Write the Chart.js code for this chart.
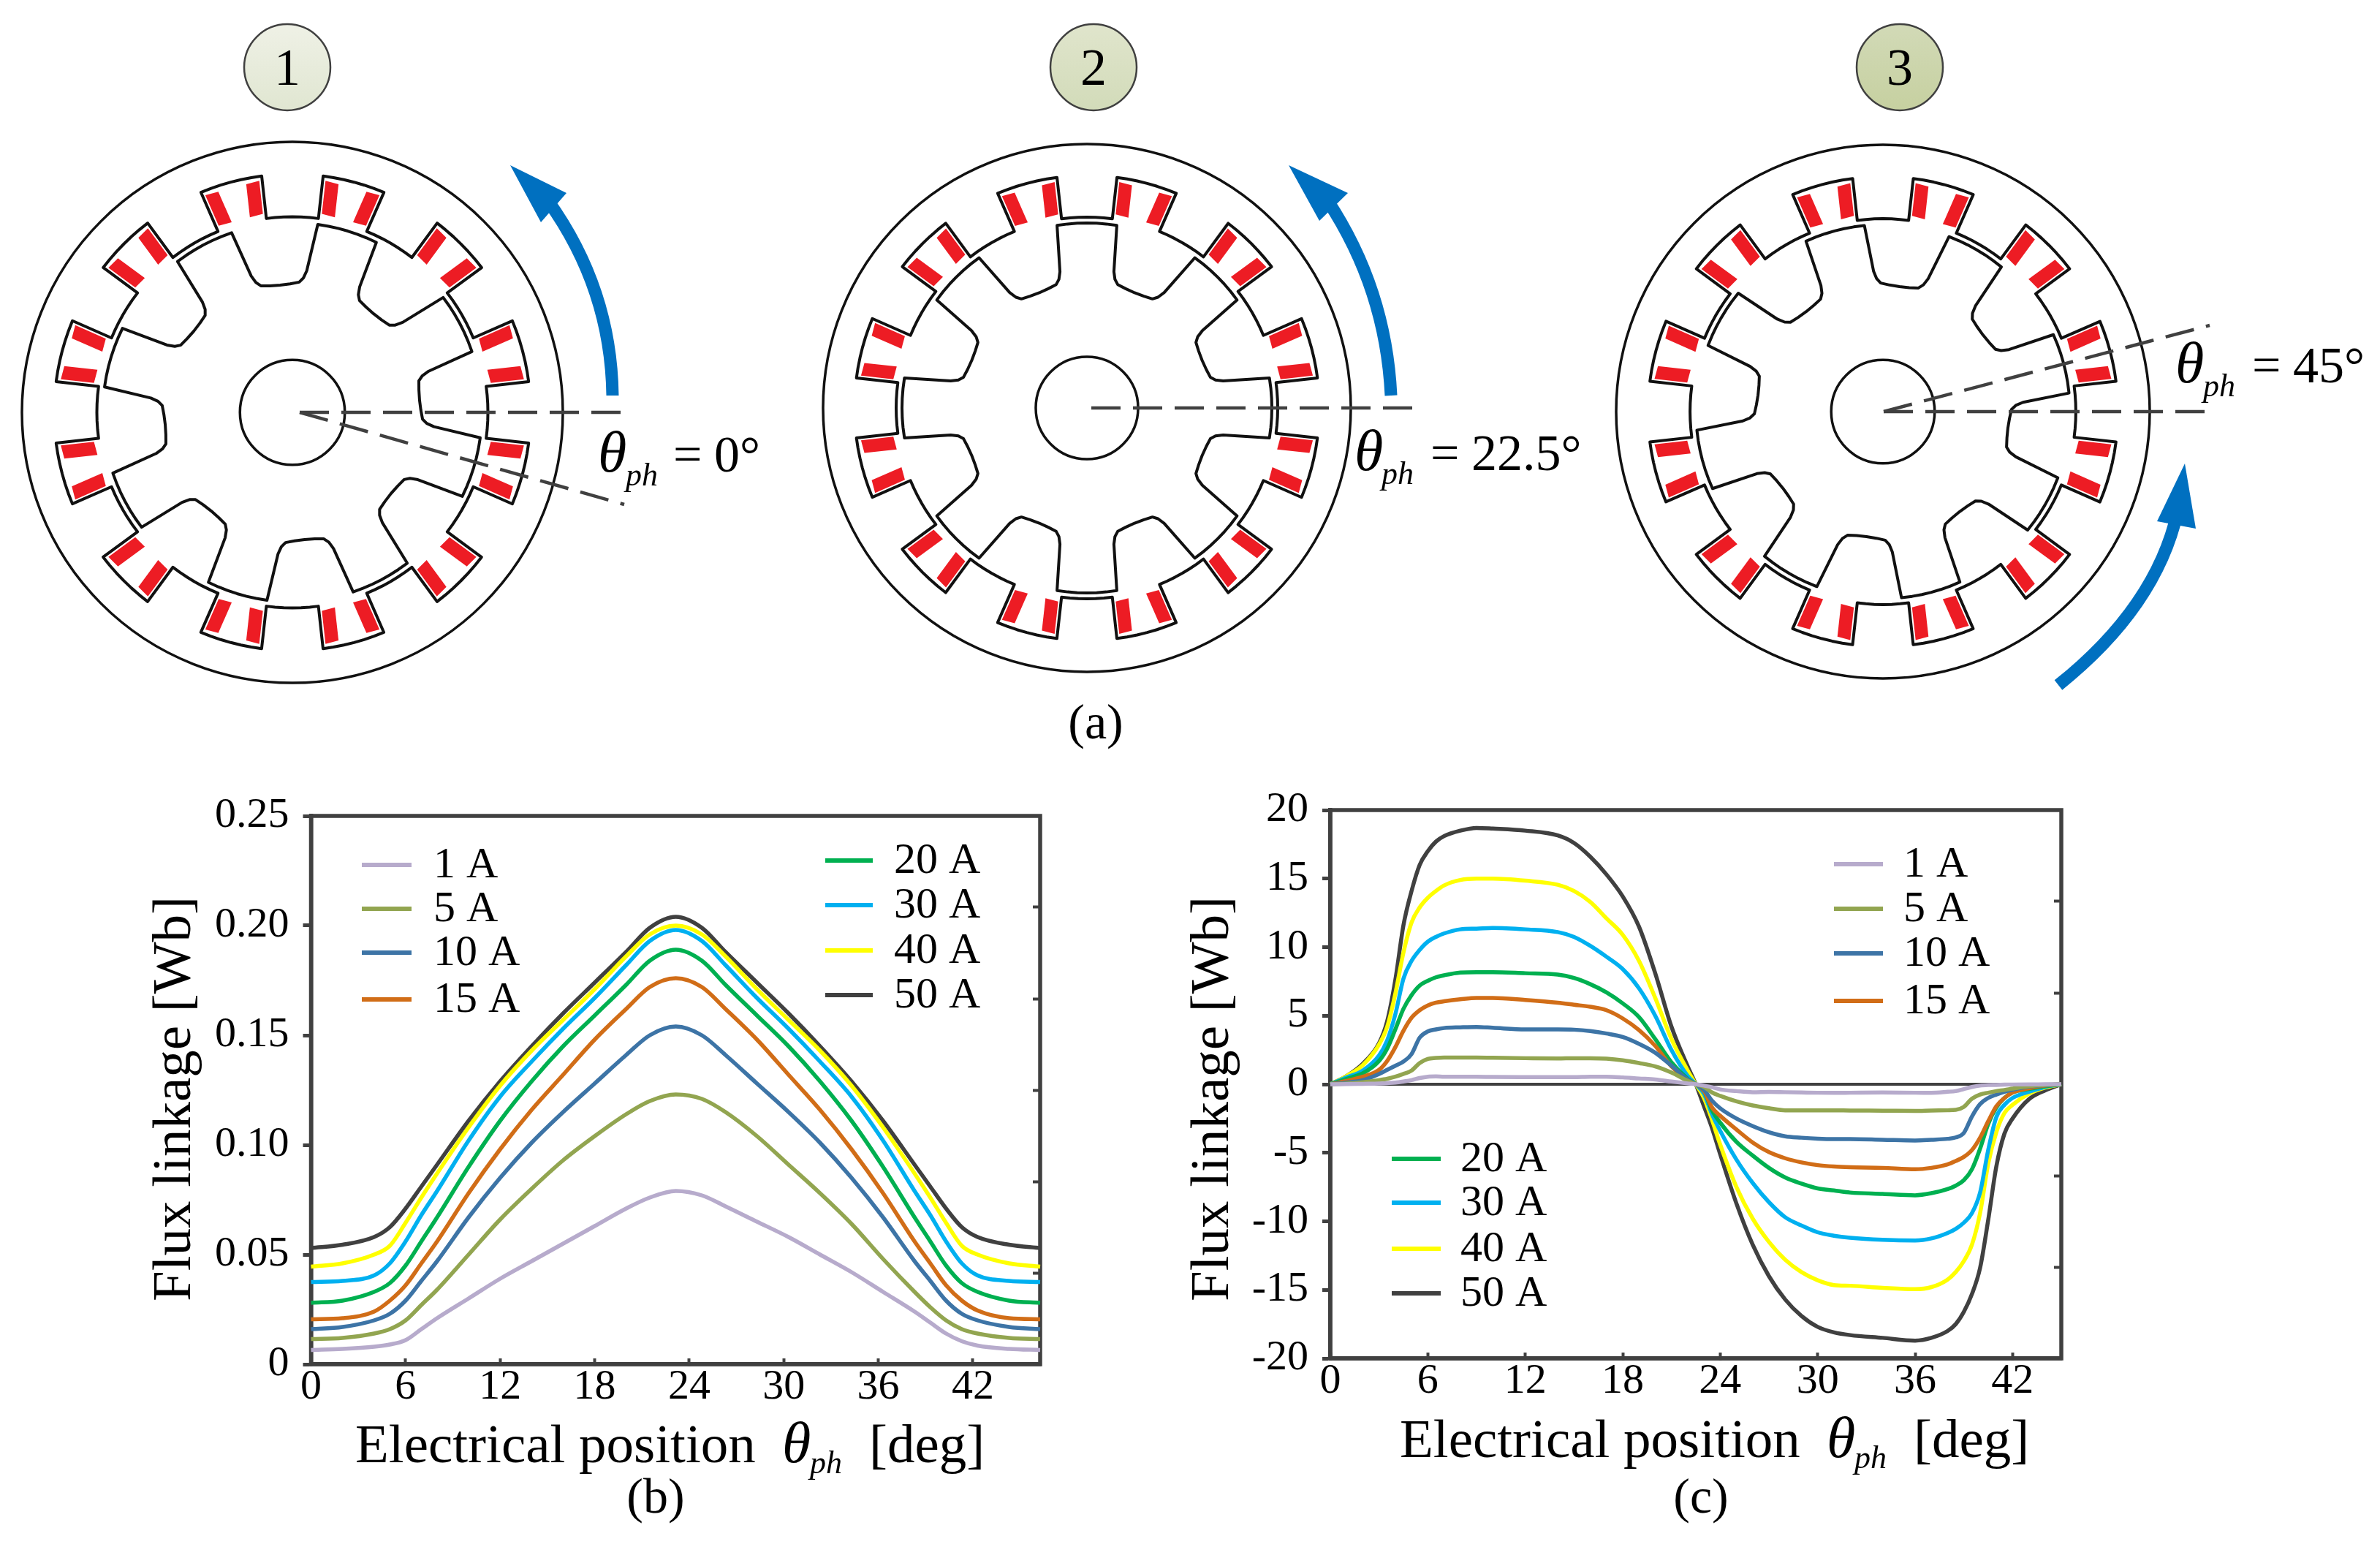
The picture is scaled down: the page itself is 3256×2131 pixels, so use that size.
<!DOCTYPE html>
<html><head><meta charset="utf-8">
<script src="https://cdn.jsdelivr.net/npm/chart.js@4"></script>
<style>
html,body{margin:0;padding:0;background:#fff;width:3256px;height:2131px;overflow:hidden}
canvas{position:absolute;display:block}
</style></head><body>
<canvas id="top" width="3256" height="1050" style="left:0;top:0"></canvas>
<canvas id="chB" style="left:0;top:1050px"></canvas>
<canvas id="chC" style="left:1560px;top:1050px"></canvas>
<script>
// ---------- data ----------
const seriesNames = ['1 A','5 A','10 A','15 A','20 A','30 A','40 A','50 A'];
const seriesColors = ['#B7ABCC','#92A550','#3D74A6','#D16D17','#00B050','#00B0F0','#FFFF00','#404040'];

const xTicksB = [0,6,12,18,24,30,36,42];
const yTicksB = [0,0.05,0.10,0.15,0.20,0.25];
const xB = [0,2,4,5,6,7,8,10,12,14,16,18,20,21.5,23.15,24.8,26.3,28.3,30.3,32.3,34.3,36.3,38.3,39.3,40.3,41.3,42.3,44.3,46.27];
const b1  = [.0065,.007,.008,.009,.011,.016,.021,.030,.039,.047,.055,.063,.071,.076,.079,.077,.072,.065,.058,.050,.042,.033,.024,.019,.014,.0105,.0085,.007,.0065];
const b5  = [.0115,.012,.014,.016,.020,.027,.034,.050,.066,.080,.093,.104,.114,.120,.123,.121,.115,.104,.091,.078,.064,.048,.033,.026,.020,.016,.014,.012,.0115];
const b10 = [.016,.017,.020,.023,.029,.038,.047,.067,.085,.101,.115,.128,.141,.150,.154,.150,.141,.128,.115,.101,.085,.067,.047,.038,.029,.023,.020,.017,.016];
const b15 = [.0205,.021,.024,.029,.036,.046,.056,.078,.098,.116,.132,.148,.162,.172,.176,.172,.162,.148,.132,.116,.098,.078,.056,.046,.036,.029,.0245,.021,.0205];
const b20 = [.028,.029,.033,.037,.045,.056,.067,.090,.111,.129,.145,.159,.173,.184,.189,.184,.173,.159,.145,.129,.111,.090,.067,.056,.045,.037,.033,.029,.028];
const b30 = [.0375,.038,.0405,.046,.056,.068,.079,.102,.122,.138,.153,.167,.182,.193,.198,.193,.182,.167,.153,.138,.122,.102,.079,.068,.056,.046,.0405,.038,.0375];
const b40 = [.0445,.046,.050,.054,.0645,.076,.087,.108,.127,.143,.157,.171,.186,.196,.200,.196,.186,.171,.157,.143,.127,.108,.087,.076,.0645,.054,.050,.046,.0445];
const b50 = [.053,.0545,.058,.0625,.071,.081,.091,.111,.129,.145,.160,.174,.188,.199,.204,.199,.188,.174,.160,.145,.129,.111,.091,.081,.071,.0625,.058,.0545,.053];

const xTicksC = [0,6,12,18,24,30,36,42];
const yTicksC = [-20,-15,-10,-5,0,5,10,15,20];
const xC = [0,1,2,3,3.5,4,4.5,5,5.5,6,6.5,7,8,9,10,12,14,15,16,17,18,19,20,21,22,22.5,23,23.5,24,25,26,27,28,29,30,31,32,34,36,37,38,38.5,39,39.5,40,40.5,41,41.5,42,43,44,45];
const c1  = [0,.01,.03,.05,.08,.12,.2,.3,.45,.55,.57,.55,.55,.55,.53,.52,.52,.52,.55,.55,.5,.42,.35,.2,.06,0,-.1,-.22,-.38,-.5,-.58,-.56,-.58,-.6,-.62,-.63,-.62,-.6,-.62,-.62,-.55,-.5,-.35,-.2,-.1,-.06,-.05,-.03,-.02,-.01,-.005,0];
const c5  = [0,.05,.15,.3,.4,.55,.75,1,1.55,1.85,1.92,1.95,1.95,1.95,1.93,1.9,1.88,1.9,1.9,1.87,1.75,1.55,1.3,.85,.25,0,-.2,-.6,-.85,-1.25,-1.55,-1.75,-1.9,-1.9,-1.9,-1.9,-1.92,-1.93,-1.95,-1.92,-1.9,-1.87,-1.65,-1.05,-.75,-.62,-.5,-.42,-.32,-.15,-.05,0];
const c10 = [0,.12,.3,.75,1.05,1.35,1.65,2.2,3.4,3.85,4,4.1,4.15,4.18,4.12,4,4,3.98,3.88,3.7,3.45,2.95,2.3,1.35,.35,0,-.4,-1.2,-1.75,-2.5,-3.05,-3.5,-3.8,-3.9,-3.97,-4,-4,-4.05,-4.1,-4.05,-3.98,-3.88,-3.55,-2.35,-1.45,-1,-.75,-.55,-.4,-.18,-.07,0];
const c15 = [0,.25,.55,1.05,1.7,2.7,3.9,4.85,5.4,5.75,5.95,6.05,6.2,6.3,6.3,6.15,5.95,5.8,5.65,5.4,4.8,3.95,2.8,1.3,.3,0,-.5,-1.7,-2.3,-3.3,-4.25,-4.95,-5.4,-5.7,-5.9,-6,-6.05,-6.1,-6.2,-6.1,-5.85,-5.6,-5.3,-4.8,-3.9,-2.7,-1.6,-1,-.6,-.3,-.1,0];
const c20 = [0,.4,.8,1.7,2.6,4,5.5,6.5,7.2,7.55,7.8,7.95,8.15,8.18,8.18,8.1,8,7.75,7.3,6.7,5.9,4.9,3.3,1.6,.4,0,-.5,-1.9,-2.8,-4.2,-5.2,-6.1,-6.8,-7.25,-7.6,-7.75,-7.9,-8,-8.1,-7.95,-7.65,-7.4,-7,-6.2,-4.7,-2.9,-1.7,-1,-.6,-.35,-.15,0];
const c30 = [0,.5,1,2.1,3.2,5.1,7.7,9,9.8,10.4,10.75,11,11.3,11.35,11.4,11.3,11.1,10.75,10.1,9.3,8.4,7,5,2.5,.6,0,-.7,-2.2,-3.4,-5.5,-7.2,-8.6,-9.7,-10.3,-10.8,-11.05,-11.2,-11.35,-11.4,-11.25,-10.85,-10.55,-10.1,-9.4,-7.9,-4.8,-2.4,-1.5,-1,-.55,-.2,0];
const c40 = [0,.6,1.4,2.9,4.2,6.6,9.6,11.8,12.9,13.6,14.1,14.5,14.9,15,15,14.85,14.55,14.1,13.3,12.1,10.9,9,6.3,3.3,1,0,-1,-2.6,-4.4,-7.5,-9.8,-11.5,-12.8,-13.7,-14.3,-14.65,-14.7,-14.85,-14.95,-14.8,-14.25,-13.7,-12.9,-11.7,-9.4,-5.8,-3.5,-2.1,-1.5,-.7,-.25,0];
const c50 = [0,.6,1.5,3,4.6,7.6,11.6,14.1,16,17,17.7,18.1,18.5,18.7,18.65,18.5,18.15,17.6,16.6,15.3,13.7,11.5,8.1,4.2,1.3,0,-1.6,-3.2,-5.1,-8.7,-11.7,-14,-15.7,-16.9,-17.7,-18.1,-18.3,-18.5,-18.7,-18.5,-18,-17.5,-16.6,-15.3,-13.4,-9.9,-6,-3.6,-2.5,-1.1,-.45,0];

// schematic: rotor angle of each drawn machine and its label
const machineRotorDeg = [-17,0,15];
const machineNumbers = ['1','2','3'];
const machineAngleText = ['0°','22.5°','45°'];
const panelLetters = ['(a)','(b)','(c)'];
const xTitleParts = ['Electrical position','θ','ph','[deg]'];
const yTitleText = 'Flux linkage [Wb]';

// ---------- layout ----------
const SERIF = '"Liberation Serif","Times New Roman",serif';
const INK = '#404040';

function fixWidth(w){ return s => { s.width = w; }; }
function fixHeight(h){ return s => { s.height = h; }; }

function lineChart(id, cfg){
  const cv = document.getElementById(id);
  cv.width = cfg.W; cv.height = cfg.H;
  const A = cfg.area;
  const datasets = cfg.series.map((d,i)=>({
    label: seriesNames[i], borderColor: seriesColors[i], backgroundColor: seriesColors[i],
    data: d.map((v,k)=>({x:cfg.x[k], y:v})), borderWidth:5.5, pointRadius:0,
    cubicInterpolationMode:'monotone', fill:false, clip:false, borderJoinStyle:'round', borderCapStyle:'butt'
  }));
  new Chart(cv,{
    type:'line',
    data:{datasets},
    options:{
      responsive:false, animation:false, devicePixelRatio:1,
      layout:{padding:{left:0,top:A.top,right:0,bottom:0}},
      plugins:{legend:{display:false},tooltip:{enabled:false},title:{display:false}},
      scales:{
        x:{type:'linear',min:0,max:cfg.xMax,position:'bottom',
           afterFit:fixHeight(cfg.H-A.bottom),
           afterBuildTicks:s=>{s.ticks=cfg.xTicks.map(v=>({value:v}));},
           border:{display:true,color:INK,width:5.5},
           grid:{drawOnChartArea:false,drawTicks:true,tickLength:-8,tickWidth:4,tickColor:INK},
           ticks:{color:'#000',font:{family:SERIF,size:58},padding:cfg.xPad,maxRotation:0,autoSkip:false,
                  callback:v=>String(v)}},
        y:{type:'linear',min:cfg.yMin,max:cfg.yMax,position:'left',
           afterFit:fixWidth(A.left),
           afterBuildTicks:s=>{s.ticks=cfg.yTicks.map(v=>({value:v}));},
           border:{display:true,color:INK,width:5.5},
           grid:{drawOnChartArea:false,drawTicks:true,tickLength:11,tickWidth:5,tickColor:INK},
           ticks:{color:'#000',font:{family:SERIF,size:58},padding:cfg.yPad,autoSkip:false,
                  callback:cfg.yFmt}},
        yr:{type:'linear',min:0,max:6,position:'right',
           afterFit:fixWidth(cfg.W-A.right),
           afterBuildTicks:s=>{s.ticks=[1,2,3,4,5].map(v=>({value:v}));},
           border:{display:false},
           grid:{drawOnChartArea:false,drawTicks:true,tickLength:-10,tickWidth:4,tickColor:INK},
           ticks:{display:false}}
      }
    },
    plugins:[{
      id:'frameAndText',
      beforeDatasetsDraw(c){
        const g=c.ctx, a=c.chartArea;
        g.save();
        g.strokeStyle=INK; g.lineWidth=5.5; g.strokeRect(a.left,a.top,a.right-a.left,a.bottom-a.top);
        if(cfg.zeroLine){
          const y0=c.scales.y.getPixelForValue(0);
          g.lineWidth=4; g.beginPath(); g.moveTo(a.left,y0); g.lineTo(a.right,y0); g.stroke();
        }
        g.restore();
      },
      afterDraw(c){
        const g=c.ctx;
        g.save();
        g.textAlign='left'; g.textBaseline='alphabetic';
        // legend groups
        cfg.legend.forEach(L=>{
          L.items.forEach((idx,r)=>{
            const y=L.rows[r];
            g.fillStyle=seriesColors[idx];
            g.fillRect(L.x0,y-3,L.x1-L.x0,6);
            g.fillStyle='#000';
            g.font='60px '+SERIF;
            g.fillText(seriesNames[idx],L.tx,y+17);
          });
        });
        // x title
        const t=cfg.xTitle;
        g.fillStyle='#000';
        g.font='75px '+SERIF; g.fillText(xTitleParts[0],t.x0,t.y);
        g.font='italic 80px '+SERIF; g.fillText(xTitleParts[1],t.x1,t.y);
        g.font='italic 44px '+SERIF; g.fillText(xTitleParts[2],t.x2,t.y+15);
        g.font='75px '+SERIF; g.fillText(xTitleParts[3],t.x3,t.y);
        // panel letter
        g.font='68px '+SERIF; g.textAlign='center';
        g.fillText(cfg.letter,cfg.letterX,cfg.letterY);
        // y title
        g.translate(cfg.yTitleX,cfg.yTitleY); g.rotate(-Math.PI/2);
        g.font='75px '+SERIF; g.textBaseline='middle';
        g.fillText(yTitleText,0,0);
        g.restore();
      }
    }]
  });
}

const offY = 1050;
lineChart('chB',{
  W:1560,H:1081,area:{left:425.5,right:1423,top:1116-offY,bottom:1866-offY},
  x:xB,series:[b1,b5,b10,b15,b20,b30,b40,b50],
  xMax:46.27,yMin:0,yMax:0.25,xTicks:xTicksB,yTicks:yTicksB,
  yFmt:v=>v===0?'0':v.toFixed(2),xPad:5,yPad:19,
  legend:[
    {items:[0,1,2,3],rows:[1183-offY,1243-offY,1303-offY,1367-offY],x0:495,x1:563,tx:593},
    {items:[4,5,6,7],rows:[1177-offY,1238-offY,1300-offY,1361-offY],x0:1129,x1:1194,tx:1223}
  ],
  xTitle:{x0:486,x1:1070,x2:1108,x3:1189,y:2000-offY},
  letter:panelLetters[1],letterX:897,letterY:2069-offY,
  yTitleX:240,yTitleY:1503-offY
});
const dx=1560;
lineChart('chC',{
  W:1696,H:1081,area:{left:1820-dx,right:2820-dx,top:1108-offY,bottom:1858-offY},
  x:xC,series:[c1,c5,c10,c15,c20,c30,c40,c50],
  xMax:45,yMin:-20,yMax:20,xTicks:xTicksC,yTicks:yTicksC,
  yFmt:v=>String(v),xPad:5,yPad:19,zeroLine:true,
  legend:[
    {items:[0,1,2,3],rows:[1182-offY,1243-offY,1304-offY,1369-offY],x0:2509-dx,x1:2576-dx,tx:2604-dx},
    {items:[4,5,6,7],rows:[1585-offY,1645-offY,1708-offY,1769-offY],x0:1904-dx,x1:1971-dx,tx:1998-dx}
  ],
  xTitle:{x0:1915-dx,x1:2499-dx,x2:2537-dx,x3:2618-dx,y:1993-offY},
  letter:panelLetters[2],letterX:2327-dx,letterY:2069-offY,
  yTitleX:1660-dx,yTitleY:1503-offY
});

// ---------- schematic panel ----------
const machines=[
  {cx:400,cy:564,R:370,dashEnd:854,slant:690,dashStart:410,
   badge:{x:393,y:92,c0:'#EFF1E6',c1:'#E0E6D1'},
   label:{th:818,ph:856,eq:921,val:977,y:645},
   arrow:{s:[838,541],c:[836,395],e:[750,275],tip:[698,226],b1:[775,264],b2:[740,304]}},
  {cx:1487,cy:558,R:361,dashEnd:1933,slant:null,dashStart:1493,
   badge:{x:1496,y:92,c0:'#E0E5CC',c1:'#D2DBB9'},
   label:{th:1853,ph:1890,eq:1957,val:2013,y:643},
   arrow:{s:[1903,541],c:[1896,395],e:[1816,274],tip:[1763,226],b1:[1844,264],b2:[1805,302]}},
  {cx:2576,cy:563,R:365,dashEnd:3023,slant:445,dashStart:2577,
   badge:{x:2599,y:92,c0:'#D2DAB7',c1:'#C6D0A0'},
   label:{th:2976,ph:3014,eq:3081,val:3137,y:523},
   arrow:{s:[2816,937],c:[2950,830],e:[2979,700],tip:[2989,634],b1:[2951,713],b2:[3004,723]}}
];
// rotor profile across one 45 deg period: [offset deg, radius]
const rotorProfile=[[-9.3,253],[-6,253],[-3,253],[0,253],[3,253],[6,253],[9.3,253],[11.2,190],[12.3,180],[14,174],[18,171.5],[22.5,170.5],[27,171.5],[31,174],[32.7,180],[33.8,190]];

new Chart(document.getElementById('top'),{
  type:'scatter',
  data:{datasets:[{data:[],pointRadius:0}]},
  options:{
    responsive:false,animation:false,devicePixelRatio:1,
    layout:{padding:0},
    plugins:{legend:{display:false},tooltip:{enabled:false}},
    scales:{x:{type:'linear',display:false,min:0,max:3256},y:{type:'linear',display:false,min:0,max:1050,reverse:true}}
  },
  plugins:[{
    id:'machines',
    afterDraw(c){
      const g=c.ctx, X=v=>c.scales.x.getPixelForValue(v), Y=v=>c.scales.y.getPixelForValue(v);
      const rad=d=>d*Math.PI/180;
      machines.forEach((m,i)=>{
        const s=m.R/361;
        const P=(r,a)=>[m.cx+r*s*Math.cos(rad(a)), m.cy-r*s*Math.sin(rad(a))];
        const mv=(p)=>g.moveTo(X(p[0]),Y(p[1])), ln=(p)=>g.lineTo(X(p[0]),Y(p[1]));
        g.save();
        g.lineJoin='round';
        // red coil sides
        g.fillStyle='#ED1C24';
        for(let k=0;k<12;k++){
          const cA=15+30*k, ca=Math.cos(rad(cA)), sa=Math.sin(rad(cA));
          const L=(u,v)=>[m.cx+s*(u*ca - v*sa), m.cy-s*(u*sa + v*ca)];
          [1,-1].forEach(sg=>{
            const vs=u=>33.6+(u-263)/55*8.4;
            const u0=266,u1=310;
            g.beginPath();
            mv(L(u0,sg*(vs(u0)-3.5))); ln(L(u1,sg*(vs(u1)-3.5))); ln(L(u1,sg*(vs(u1)-21.5))); ln(L(u0,sg*(vs(u0)-21.5)));
            g.closePath(); g.fill();
          });
        }
        g.strokeStyle='#111'; g.lineWidth=3.5;
        // outer circle
        g.beginPath(); g.arc(X(m.cx),Y(m.cy),m.R,0,2*Math.PI); g.stroke();
        // shaft
        g.beginPath(); g.arc(X(m.cx),Y(m.cy),70*s,0,2*Math.PI); g.stroke();
        g.lineWidth=4;
        // stator outline
        g.beginPath();
        let first=true;
        for(let k=0;k<12;k++){
          const t=30*k;
          for(let a=t-7.65;a<=t+7.66;a+=2.55){ const p=P(261,a); if(first){mv(p);first=false;} else ln(p); }
          const cA=t+15;
          for(let a=-7.6;a<=7.61;a+=2.53){ ln(P(318,cA+a)); }
        }
        g.closePath(); g.stroke();
        // rotor outline
        g.beginPath();
        first=true;
        for(let k=0;k<8;k++){
          rotorProfile.forEach(q=>{ const p=P(q[1],machineRotorDeg[i]+45*k+q[0]); if(first){mv(p);first=false;} else ln(p); });
        }
        g.closePath(); g.stroke();
        // dashed reference lines
        g.strokeStyle=INK; g.lineWidth=4.5; g.setLineDash([40,17]);
        g.beginPath(); g.moveTo(X(m.dashStart),Y(m.cy)); g.lineTo(X(m.dashEnd),Y(m.cy)); g.stroke();
        if(m.slant!==null){ g.beginPath(); g.moveTo(X(m.dashStart),Y(m.cy)); g.lineTo(X(m.dashEnd),Y(m.slant)); g.stroke(); }
        g.setLineDash([]);
        // arrow
        const A=m.arrow;
        g.strokeStyle='#0070C0'; g.fillStyle='#0070C0'; g.lineWidth=17; g.lineCap='butt';
        g.beginPath(); mv(A.s); g.quadraticCurveTo(X(A.c[0]),Y(A.c[1]),X(A.e[0]),Y(A.e[1])); g.stroke();
        g.beginPath(); mv(A.tip); ln(A.b1); ln(A.b2); g.closePath(); g.fill();
        // numbered badge
        const B=m.badge, gr=g.createLinearGradient(0,Y(B.y-59),0,Y(B.y+59));
        gr.addColorStop(0,B.c0); gr.addColorStop(1,B.c1);
        g.fillStyle=gr; g.strokeStyle=INK; g.lineWidth=2.5;
        g.beginPath(); g.arc(X(B.x),Y(B.y),59,0,2*Math.PI); g.fill(); g.stroke();
        g.fillStyle='#000'; g.font='72px '+SERIF; g.textAlign='center'; g.textBaseline='alphabetic';
        g.fillText(machineNumbers[i],X(B.x),Y(B.y+24));
        // angle label
        const T=m.label; g.textAlign='left';
        g.font='italic 80px '+SERIF; g.fillText('θ',X(T.th),Y(T.y));
        g.font='italic 44px '+SERIF; g.fillText('ph',X(T.ph),Y(T.y+19));
        g.font='70px '+SERIF; g.fillText('=',X(T.eq),Y(T.y));
        g.fillText(machineAngleText[i],X(T.val),Y(T.y));
        g.restore();
      });
      g.save();
      g.fillStyle='#000'; g.font='68px '+SERIF; g.textAlign='center';
      g.fillText(panelLetters[0],X(1499),Y(1010));
      g.restore();
    }
  }]
});
</script>
</body></html>
